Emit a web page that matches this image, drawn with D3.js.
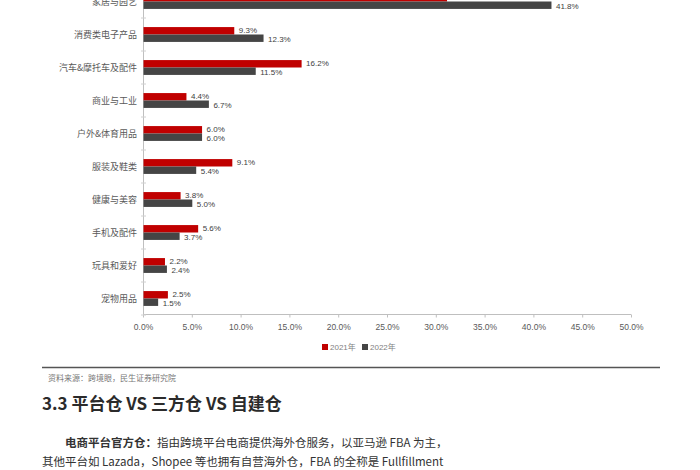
<!DOCTYPE html>
<html>
<head>
<meta charset="utf-8">
<script src="https://cdn.jsdelivr.net/npm/d3@7"></script>
<style>
  body { margin: 0; background: #fff; }
  svg { display: block; }
  .cat-label { font-family: "Noto Sans CJK SC", sans-serif; font-size: 9px; fill: #595959; }
  .val-label { font-family: "Liberation Sans", "DejaVu Sans", sans-serif; font-size: 8px; fill: #404040; }
  .x-axis text { font-family: "Liberation Sans", sans-serif; font-size: 8.5px; fill: #595959; }
  .x-axis path, .x-axis line { stroke: #bfbfbf; }
</style>
</head>
<body>
<div id="chart"></div>
<script>
// categories top to bottom
const categories = ["家居与园艺", "消费类电子产品", "汽车&摩托车及配件", "商业与工业", "户外&体育用品",
    "服装及鞋类", "健康与美容", "手机及配件", "玩具和爱好", "宠物用品"];
const seriesNames = ["2021年", "2022年"];
const values2021 = [31.1, 9.3, 16.2, 4.4, 6.0, 9.1, 3.8, 5.6, 2.2, 2.5];
const values2022 = [41.8, 12.3, 11.5, 6.7, 6.0, 5.4, 5.0, 3.7, 2.4, 1.5];
const xTicks = [0, 5, 10, 15, 20, 25, 30, 35, 40, 45, 50];
const colors = ["#c00000", "#454545"];

const width = 700, height = 470;

const svg = d3.select("#chart").append("svg")
    .attr("width", width)
    .attr("height", height);

svg.append("rect").attr("width", width).attr("height", height).attr("fill", "#fff");

// scales
const x = d3.scaleLinear().domain([0, 50]).range([143, 631]);

const y0 = d3.scaleBand()
    .domain(categories)
    .range([-15, 315])
    .paddingInner(0.55)
    .paddingOuter(0.275);

const y1 = d3.scaleBand()
    .domain(seriesNames)
    .range([0, y0.bandwidth()]);

const rows = categories.map((c, i) => ({
    cat: c,
    vals: [
        { key: seriesNames[0], v: values2021[i] },
        { key: seriesNames[1], v: values2022[i] }
    ]
}));

// x axis
const xAxis = d3.axisBottom(x)
    .tickValues(xTicks)
    .tickSize(3)
    .tickPadding(6)
    .tickFormat(d => d3.format(".1f")(d) + "%");

svg.append("g")
    .attr("class", "x-axis")
    .attr("transform", "translate(0,314.5)")
    .call(xAxis)
    .call(g => g.select(".domain").attr("d", `M${x(0)},0H${x(50)}`));

// y axis line and ticks between categories
svg.append("line")
    .attr("x1", x(0) + 0.5).attr("x2", x(0) + 0.5)
    .attr("y1", 0).attr("y2", 314.5)
    .attr("stroke", "#bfbfbf");

svg.append("g").selectAll("line")
    .data(categories)
    .join("line")
    .attr("x1", x(0) - 2).attr("x2", x(0) + 3)
    .attr("y1", d => y0(d) + y0.bandwidth() + y0.step() * 0.275)
    .attr("y2", d => y0(d) + y0.bandwidth() + y0.step() * 0.275)
    .attr("stroke", "#d0d0d0");

// category labels
svg.append("g").selectAll("text")
    .data(categories)
    .join("text")
    .attr("class", "cat-label")
    .attr("x", 137)
    .attr("y", d => y0(d) + y0.bandwidth() / 2)
    .attr("dy", "0.35em")
    .attr("text-anchor", "end")
    .text(d => d);

// bars
const groups = svg.append("g").selectAll("g")
    .data(rows)
    .join("g")
    .attr("transform", d => `translate(0,${y0(d.cat)})`);

groups.selectAll("rect")
    .data(d => d.vals)
    .join("rect")
    .attr("x", x(0) + 0.5)
    .attr("y", d => y1(d.key))
    .attr("height", y1.bandwidth())
    .attr("width", d => x(d.v) - x(0))
    .attr("fill", (d, i) => colors[i]);

groups.selectAll("text")
    .data(d => d.vals)
    .join("text")
    .attr("class", "val-label")
    .attr("x", d => x(d.v) + 5)
    .attr("y", (d, i) => y1(d.key) + y1.bandwidth() / 2 + (i === 0 ? -0.5 : 0.5))
    .attr("dy", "0.35em")
    .text(d => d3.format(".1f")(d.v) + "%");

// legend
const legend = svg.append("g").attr("transform", "translate(322,347)");
const legendItems = legend.selectAll("g")
    .data(seriesNames)
    .join("g")
    .attr("transform", (d, i) => `translate(${i * 40},0)`);
legendItems.append("rect")
    .attr("x", 0).attr("y", -3)
    .attr("width", 6).attr("height", 6)
    .attr("fill", (d, i) => colors[i]);
legendItems.append("text")
    .attr("x", 8).attr("dy", "0.35em")
    .attr("font-family", "Liberation Sans, Noto Sans CJK SC, sans-serif")
    .attr("font-size", 8)
    .attr("fill", "#7f7f7f")
    .text(d => d);

// page text below chart
svg.append("line")
    .attr("x1", 42).attr("x2", 660)
    .attr("y1", 367.5).attr("y2", 367.5)
    .attr("stroke", "#555").attr("stroke-width", 1.5);

svg.append("text")
    .attr("x", 48).attr("y", 378).attr("dy", "0.35em")
    .attr("font-family", "Noto Sans CJK SC, sans-serif")
    .attr("font-size", 8)
    .attr("fill", "#777")
    .text("资料来源：跨境眼，民生证券研究院");

svg.append("text")
    .attr("x", 42).attr("y", 404).attr("dy", "0.35em")
    .attr("font-family", "Noto Sans CJK SC, sans-serif")
    .attr("font-size", 17)
    .attr("font-weight", "bold")
    .attr("fill", "#2b2b2b")
    .text("3.3 平台仓 VS 三方仓 VS 自建仓");

const p1 = svg.append("text")
    .attr("x", 65).attr("y", 443).attr("dy", "0.35em")
    .attr("font-family", "Noto Sans CJK SC, sans-serif")
    .attr("font-size", 11.5)
    .attr("fill", "#333");
p1.append("tspan").attr("font-weight", "bold").text("电商平台官方仓：");
p1.append("tspan").text("指由跨境平台电商提供海外仓服务，以亚马逊 FBA 为主，");

svg.append("text")
    .attr("x", 42).attr("y", 462).attr("dy", "0.35em")
    .attr("font-family", "Noto Sans CJK SC, sans-serif")
    .attr("font-size", 11.5)
    .attr("fill", "#333")
    .text("其他平台如 Lazada，Shopee 等也拥有自营海外仓，FBA 的全称是 Fullfillment");
</script>
</body>
</html>
